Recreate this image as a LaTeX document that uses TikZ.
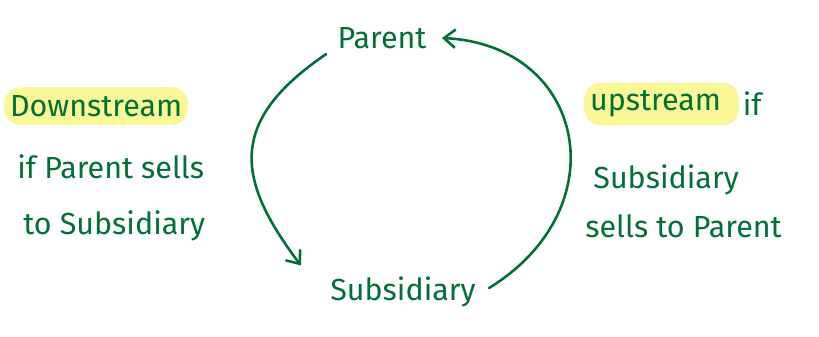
\documentclass[tikz,border=0pt]{standalone}
\usepackage{fontspec}
\setmainfont{Fira Sans}
\usepackage{tikz}
\usetikzlibrary{arrows.meta,positioning}
\definecolor{inkgreen}{RGB}{0,112,52}
\definecolor{marker}{RGB}{250,248,150}

\begin{document}
\begin{tikzpicture}[
x=0.03cm, y=-0.03cm,
ink/.style={
		text=inkgreen,
		font=\fontsize{26}{29}\selectfont,
		inner sep=1pt,
		},
hilite/.style={
		ink,
		fill=marker,
		rounded corners=14pt,
		inner xsep=5pt,
		inner ysep=7pt,
		},
flow/.style={
		draw=inkgreen,
		line width=2.2pt,
		line cap=round,
		-{Straight Barb[length=3.4mm,width=5.5mm]},
		}
]

\useasboundingbox (0,0) rectangle (819,336);

% the two companies
\node[ink] (parent) at (382,38) {Parent};
\node[ink] (sub) at (403,292) {Subsidiary};

% left side notes
\node[hilite, anchor=west] (down) at (4,106) {Downstream};
\node[ink, anchor=west] (downA) at (16,167) {if Parent sells};
\node[ink, anchor=west] (downB) at (22,226) {to Subsidiary};

% right side notes
\node[hilite, anchor=west, text width=122pt] (up) at (584,104) {upstream};
\node[ink, right=2pt of up] (upif) {if};
\node[ink, anchor=west] (upA) at (592,180) {Subsidiary};
\node[ink, anchor=west] (upB) at (584,226) {sells to Parent};

% sales between them
\draw[flow] ([shift={(-10,4)}]parent.south west)
  .. controls +(-100,68) and +(-64,-85) .. ([shift={(-28,-10)}]sub.north west);
\draw[flow] ([shift={(12,-4)}]sub.east)
  .. controls +(130,-80) and +(144,7) .. ([xshift=12pt]parent.east);

\end{tikzpicture}
\end{document}
